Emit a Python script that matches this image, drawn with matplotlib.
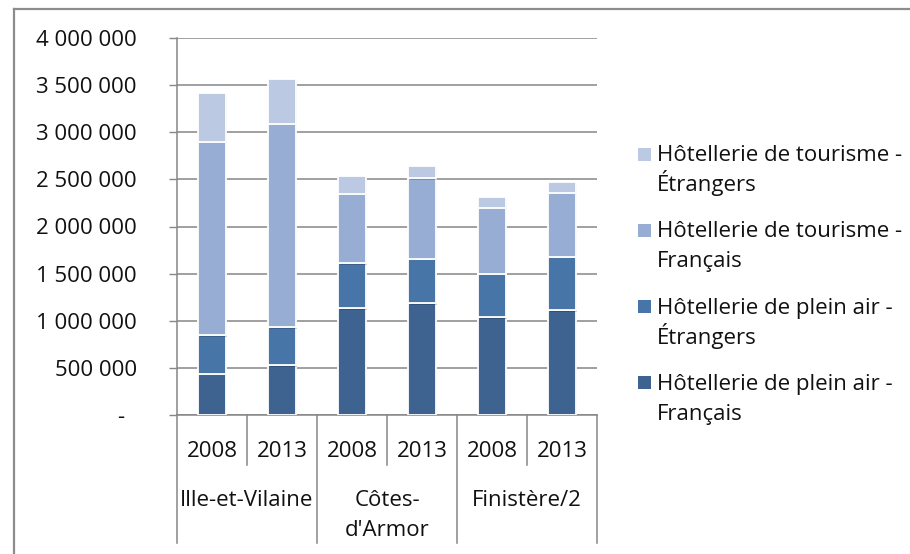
import numpy as np
import matplotlib.pyplot as plt
from matplotlib.lines import Line2D
from matplotlib.patches import Rectangle
from matplotlib.ticker import FuncFormatter, MultipleLocator
from matplotlib import patheffects as pe
from matplotlib.transforms import blended_transform_factory

plt.rcParams['font.family'] = ['Open Sans', 'DejaVu Sans']

# nuitées par département et par année
departements = ["Ille-et-Vilaine", "Côtes-\nd'Armor", "Finistère/2"]
annees = ["2008", "2013"]

plein_air_fr = [440000, 530000, 1130000, 1190000, 1040000, 1110000]
plein_air_et = [410000, 400000, 480000, 470000, 460000, 570000]
tourisme_fr = [2050000, 2160000, 740000, 850000, 700000, 680000]
tourisme_et = [520000, 470000, 190000, 130000, 110000, 110000]

series = [
    ("Hôtellerie de plein air -\nFrançais", plein_air_fr, "#3e6391"),
    ("Hôtellerie de plein air -\nÉtrangers", plein_air_et, "#4875a8"),
    ("Hôtellerie de tourisme -\nFrançais", tourisme_fr, "#98add3"),
    ("Hôtellerie de tourisme -\nÉtrangers", tourisme_et, "#bcc9e3"),
]

FS = 16
TXT = "#111111"
GRIS = "#868686"

W, H = 910, 554
fig = plt.figure(figsize=(W / 100, H / 100), dpi=100)
ax = fig.add_axes([177 / W, 1 - 415 / H, 420 / W, 377 / H])

x = np.arange(len(departements) * len(annees))
bottom = np.zeros(len(x))
shadow = [pe.SimplePatchShadow(offset=(1.2, -1.2), shadow_rgbFace="#000000", alpha=0.18), pe.Normal()]
for label, vals, color in series:
    bars = ax.bar(x, vals, 0.39, bottom=bottom, color=color, edgecolor="white",
                  linewidth=1.3, zorder=3)
    for b in bars:
        b.set_path_effects(shadow)
    bottom += np.array(vals)

ax.set_xlim(-0.5, len(x) - 0.5)
ax.set_ylim(0, 4000000)
ax.yaxis.set_major_locator(MultipleLocator(500000))


def fmt(v, pos):
    if v == 0:
        return "-  "
    return f"{int(v):,}".replace(",", " ")


ax.yaxis.set_major_formatter(FuncFormatter(fmt))
ax.tick_params(axis="y", length=6, width=1, color=GRIS, pad=23,
               labelsize=FS, labelcolor=TXT)
ax.set_xticks([])
ax.grid(axis="y", color=GRIS, linewidth=1.1, zorder=0)
for s in ["top", "right"]:
    ax.spines[s].set_visible(False)
for s in ["left", "bottom"]:
    ax.spines[s].set_color(GRIS)
    ax.spines[s].set_linewidth(1.1)


def lignes(x0, y0, texte, transform, ha):
    # une ligne de texte par Text, avec un pas fixe de 30 px
    for n, ligne in enumerate(texte.split("\n")):
        fig.text(x0, 1 - (y0 + 30 * n) / H, ligne, transform=transform, ha=ha,
                 va="baseline", fontsize=FS, color=TXT)


# axe des catégories sur deux niveaux
tr = blended_transform_factory(ax.transData, fig.transFigure)
for i in range(len(x) + 1):
    pos = i - 0.5
    y_end = 543 if i % 2 == 0 else 465
    ax.add_line(Line2D([pos, pos], [1 - 415 / H, 1 - y_end / H], transform=tr,
                       color=GRIS, linewidth=1.1, clip_on=False))
for i, xi in enumerate(x):
    lignes(xi, 457, annees[i % 2], tr, "center")
for j, dep in enumerate(departements):
    lignes(2 * j + 0.5, 506, dep, tr, "center")

# légende (ordre inverse de l'empilement)
for k, (label, vals, color) in enumerate(reversed(series)):
    yc = 154 + 76.3 * k
    fig.patches.append(Rectangle((638 / W, 1 - (yc + 6.5) / H), 13 / W, 13 / H,
                                 transform=fig.transFigure, facecolor=color,
                                 edgecolor="none"))
    lignes(657 / W, yc + 7, label, fig.transFigure, "left")

# cadre du graphique
fig.add_artist(Line2D([14 / W, 14 / W], [0, 1 - 9 / H], color="#8c8c8c", linewidth=1.6))
fig.add_artist(Line2D([14 / W, 1], [1 - 9 / H, 1 - 9 / H], color="#8c8c8c", linewidth=1.6))

fig.savefig("out.png", dpi=100)
